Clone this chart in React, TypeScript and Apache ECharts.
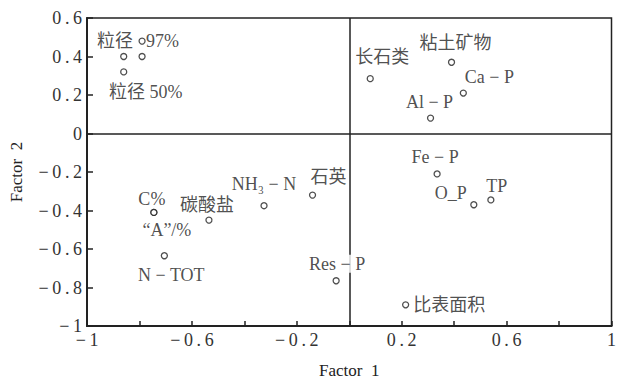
import React, { useEffect, useRef } from "react";
import * as echarts from "echarts";

// Variable names and their loadings
const variables = ["粒径97%", "粒径a", "粒径b", "粒径50%", "长石类", "粘土矿物", "Ca-P", "Al-P", "Fe-P", "O_P", "TP", "石英", "NH3-N", "碳酸盐", "C%", "A/%", "N-TOT", "Res-P", "比表面积"];
const factor1 = [-0.79, -0.86, -0.79, -0.86, 0.08, 0.39, 0.435, 0.31, 0.335, 0.475, 0.54, -0.14, -0.325, -0.535, -0.745, -0.745, -0.705, -0.05, 0.215];
const factor2 = [0.48, 0.40, 0.40, 0.32, 0.285, 0.37, 0.21, 0.08, -0.21, -0.37, -0.345, -0.32, -0.375, -0.45, -0.41, -0.41, -0.635, -0.765, -0.89];
const labelTexts = ["{a|粒径}{g|}{b|97%}", "", "", "{a|粒径} {b|50%}", "长石类", "粘土矿物", "Ca − P", "Al − P", "Fe − P", "O_P", "TP", "石英", "NH₃ − N", "碳酸盐", "C%", "“A”/%", "N − TOT", "Res − P", "比表面积"];

const xTicks = ["−1", "−0.6", "−0.2", "0.2", "0.6", "1"];

// label placement (styling only)
const labelPlace: Record<string, any> = {
  "粒径97%": { position: "inside", offset: [-4, 0] },
  "粒径50%": { position: "inside", offset: [22, 20] },
  "长石类": { position: "inside", offset: [12, -22] },
  "粘土矿物": { position: "inside", offset: [4, -19] },
  "Ca-P": { position: "inside", offset: [26, -16] },
  "Al-P": { position: "inside", offset: [-1, -16] },
  "Fe-P": { position: "inside", offset: [-2, -17] },
  "O_P": { position: "inside", offset: [-23, -12] },
  "TP": { position: "inside", offset: [6, -14] },
  "石英": { position: "inside", offset: [16, -18] },
  "NH3-N": { position: "inside", offset: [0, -22] },
  "碳酸盐": { position: "inside", offset: [-2, -15] },
  "C%": { position: "inside", offset: [-2, -13] },
  "A/%": { position: "inside", offset: [13, 18] },
  "N-TOT": { position: "inside", offset: [7, 19] },
  "Res-P": { position: "inside", offset: [1, -17], backgroundColor: "#fff", padding: [0, 2] },
  "比表面积": { position: "right", distance: 4 },
};

const FONT = "'Liberation Serif', 'Noto Sans CJK SC', serif";
const spaced = (s: string) => s.split("").join("\u2009");

export default function App() {
  const ref = useRef<HTMLDivElement>(null);
  useEffect(() => {
    const chart = echarts.init(ref.current!, null, { renderer: "svg" });
    const data = variables.map((n, i) => {
      const lp = labelPlace[n];
      return {
        name: n,
        value: [factor1[i], factor2[i]],
        label: lp
          ? { show: true, formatter: labelTexts[i], ...lp }
          : { show: false },
      };
    });
    chart.setOption({
      animation: false,
      backgroundColor: "#fff",
      grid: { left: 87, right: 3, top: 18, bottom: 54, show: true, borderColor: "#222", borderWidth: 1.5, backgroundColor: "transparent" },
      xAxis: {
        type: "value",
        min: -1,
        max: 1,
        interval: 0.2,
        name: "Factor  1",
        nameLocation: "middle",
        nameGap: 36,
        nameTextStyle: { fontFamily: FONT, fontSize: 17, color: "#222" },
        splitLine: { show: false },
        axisLine: { onZero: false, lineStyle: { color: "#222", width: 2 } },
        axisTick: { inside: true, length: 5, lineStyle: { color: "#222", width: 1.5 } },
        axisLabel: {
          margin: 5,
          fontFamily: FONT,
          fontSize: 18,
          color: "#333",
          formatter: (v: number) => {
            const k = Math.round((v + 1) / 0.2);
            return k % 2 === 0 ? spaced(xTicks[k / 2]) : "";
          },
        },
      },
      yAxis: {
        type: "value",
        min: -1,
        max: 0.6,
        interval: 0.2,
        name: "Factor  2",
        nameLocation: "middle",
        nameRotate: 90,
        nameGap: 62,
        nameTextStyle: { fontFamily: FONT, fontSize: 17, color: "#222" },
        splitLine: { show: false },
        axisLine: { onZero: false, lineStyle: { color: "#222", width: 2 } },
        axisTick: { inside: true, length: 6, lineStyle: { color: "#222", width: 1.5 } },
        axisLabel: {
          margin: 5,
          fontFamily: FONT,
          fontSize: 18,
          color: "#333",
          formatter: (v: number) => {
            const r = Number(v.toFixed(1));
            return spaced(r < 0 ? "−" + Math.abs(r) : String(r));
          },
        },
      },
      series: [
        {
          type: "scatter",
          symbol: "circle",
          symbolSize: 6,
          itemStyle: { color: "#fff", borderColor: "#222", borderWidth: 1.3 },
          label: {
            fontFamily: FONT,
            fontSize: 18,
            color: "#222",
            rich: {
              a: { fontFamily: FONT, fontSize: 18, color: "#222" },
              g: { width: 13 },
              b: { fontFamily: FONT, fontSize: 18, color: "#222" },
            },
          },
          data,
          z: 3,
          markLine: {
            silent: true,
            symbol: "none",
            z: 1,
            label: { show: false },
            lineStyle: { color: "#222", width: 1.5, type: "solid" },
            data: [{ xAxis: 0 }, { yAxis: 0 }],
          },
        },
      ],
    });
    return () => chart.dispose();
  }, []);
  return <div ref={ref} style={{ position: "fixed", left: 0, top: 0, width: 619, height: 384 }} />;
}
